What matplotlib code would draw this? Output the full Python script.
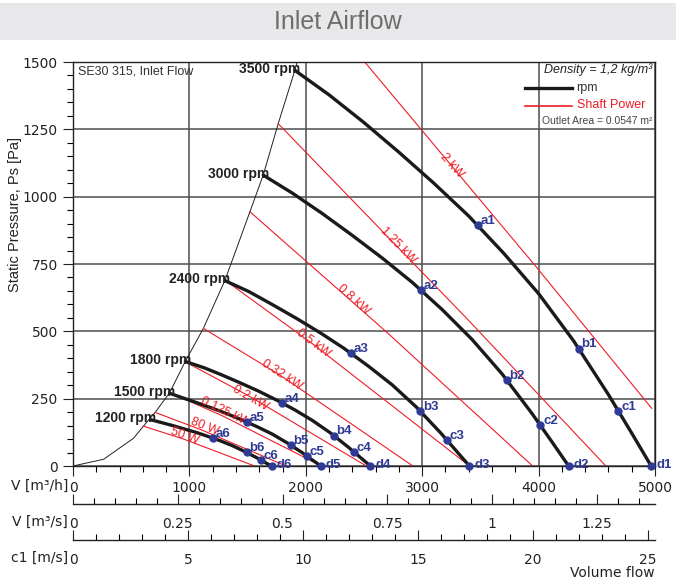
import matplotlib
matplotlib.use('Agg')
import matplotlib.pyplot as plt
from matplotlib.lines import Line2D
from matplotlib.patches import Rectangle
from matplotlib.ticker import MultipleLocator, FixedLocator

# fan curves, flow in m3/h and static pressure in Pa
rpm_labels = ['3500 rpm', '3000 rpm', '2400 rpm', '1800 rpm', '1500 rpm', '1200 rpm']
q_3500 = [1906, 2200, 2500, 2800, 3100, 3400, 3700, 4000, 4300, 4600, 4800, 4967]
p_3500 = [1469, 1378, 1275, 1165, 1050, 928, 790, 640, 465, 265, 122, 0]
q_3000 = [1634, 1885, 2143, 2400, 2657, 2914, 3171, 3428, 3686, 3943, 4114, 4258]
p_3000 = [1080, 1013, 937, 856, 772, 682, 581, 470, 342, 195, 90, 0]
q_2400 = [1306, 1509, 1714, 1920, 2126, 2331, 2537, 2743, 2949, 3154, 3291, 3406]
p_2400 = [688, 648, 599, 548, 494, 436, 371, 301, 219, 125, 57, 0]
q_1800 = [965, 1131, 1285, 1440, 1594, 1748, 1903, 2057, 2211, 2365, 2468, 2555]
p_1800 = [388, 364, 337, 308, 278, 245, 209, 169, 123, 70, 32, 0]
q_1500 = [830, 943, 1071, 1200, 1329, 1457, 1586, 1714, 1843, 1971, 2057, 2130]
p_1500 = [270, 253, 234, 214, 193, 170, 145, 118, 85, 49, 22, 0]
q_1200 = [665, 754, 857, 960, 1063, 1166, 1269, 1372, 1474, 1577, 1646, 1706]
p_1200 = [172, 162, 150, 137, 124, 109, 93, 75, 54, 31, 14, 0]

# operating points
op_labels = ['a1', 'b1', 'c1', 'd1', 'a2', 'b2', 'c2', 'd2', 'a3', 'b3', 'c3', 'd3',
             'a4', 'b4', 'c4', 'd4', 'a5', 'b5', 'c5', 'd5', 'a6', 'b6', 'c6', 'd6']
op_q = [3477, 4343, 4686, 4967, 2986, 3726, 4015, 4258, 2386, 2983, 3212, 3406,
        1794, 2240, 2412, 2555, 1497, 1869, 2011, 2130, 1200, 1492, 1614, 1706]
op_p = [893, 436, 204, 0, 654, 319, 151, 0, 419, 204, 96, 0,
        234, 113, 53, 0, 162, 78, 37, 0, 104, 51, 22, 0]

# shaft power lines
power_labels = ['50 W', '80 W', '0.125 kW', '0.2 kW', '0.32 kW', '0.5 kW', '0.8 kW', '1.25 kW', '2 kW']
pw_q = [[605, 950, 1560], [706, 1110, 1830], [830, 1290, 2135], [963, 1520, 2520],
        [1120, 1780, 2920], [1306, 2063, 3406], [1520, 2700, 3949], [1763, 3378, 4578],
        [2506, 3978, 4972]]
pw_p = [[148, 100, 0], [199, 133, 0], [273, 185, 0], [387, 258, 0],
        [511, 337, 0], [690, 452, 0], [944, 495, 0], [1271, 550, 0],
        [1500, 740, 214]]
pw_label_q = [963, 1134, 1306, 1520, 1791, 2063, 2406, 2792, 3256]
pw_label_p = [109, 146, 201, 251, 338, 455, 616, 820, 1117]
pw_label_rot = [-20, -22, -26, -30, -33, -37, -42, -46, -48]

# surge limit line
limit_q = [0, 263, 520, 605, 706, 830, 963, 1120, 1306, 1520, 1634, 1763, 1906, 1925]
limit_p = [0, 25, 103, 148, 199, 272, 387, 511, 690, 944, 1080, 1271, 1469, 1500]

W, H = 676, 583
def fx(px):
    return px / W
def fy(py):
    return 1 - py / H

red = '#ee1c25'
blue = '#2e3a94'
dark = '#222222'

fig = plt.figure(figsize=(W / 100, H / 100), dpi=100)
fig.add_artist(Rectangle((0, fy(40)), 1, fy(3) - fy(40), transform=fig.transFigure,
                         facecolor='#e8e8ea', edgecolor='none'))
fig.text(0.5, fy(22), 'Inlet Airflow', ha='center', va='center', fontsize=18,
         family='Liberation Sans', color='#6e6e6e')

ax = fig.add_axes([fx(73), fy(466), fx(655) - fx(73), fy(62) - fy(466)])
ax.set_xlim(0, 5000)
ax.set_ylim(0, 1500)
ax.xaxis.set_major_locator(MultipleLocator(1000))
ax.xaxis.set_minor_locator(MultipleLocator(200))
ax.yaxis.set_major_locator(MultipleLocator(250))
ax.yaxis.set_minor_locator(MultipleLocator(50))
ax.tick_params(which='major', direction='out', length=7, width=0.8, labelsize=10,
               colors=dark, pad=4)
ax.tick_params(which='minor', direction='out', length=4.5, width=0.8)
ax.set_axisbelow(True)
ax.grid(which='major', color='#4d4d4d', lw=1.1)
for s in ax.spines.values():
    s.set_color(dark)
    s.set_linewidth(1.0)

ax.plot(limit_q, limit_p, color='#222', lw=0.7)

for q, p in zip(pw_q, pw_p):
    ax.plot(q, p, color=red, lw=0.8)
for lbl, q, p, r in zip(power_labels, pw_label_q, pw_label_p, pw_label_rot):
    ax.text(q, p, lbl, rotation=r, rotation_mode='anchor', ha='center', va='center',
            fontsize=9, color=red, family='Liberation Sans')

curves = [(q_3500, p_3500), (q_3000, p_3000), (q_2400, p_2400),
          (q_1800, p_1800), (q_1500, p_1500), (q_1200, p_1200)]
for lbl, (q, p) in zip(rpm_labels, curves):
    ax.plot(q, p, color='#1a1a1a', lw=2.4, solid_capstyle='round')
    ax.annotate(lbl, (q[0], p[0]), xytext=(4, 1), textcoords='offset points',
                ha='right', va='center', fontsize=10, fontweight='bold',
                family='Liberation Sans', color=dark)

ax.plot(op_q, op_p, 'o', color=blue, ms=5, clip_on=False, zorder=5)
for lbl, q, p in zip(op_labels, op_q, op_p):
    # points on the axis get their label a little lower and further right
    off = (3.5, 1) if lbl.startswith('d') else (2, 3)
    ax.annotate(lbl, (q, p), xytext=off, textcoords='offset points',
                ha='left', va='center', fontsize=9.5, fontweight='bold',
                family='Liberation Sans', color=blue, annotation_clip=False)

# extra flow scales under the chart
ax2 = fig.add_axes([fx(73), fy(504), fx(655) - fx(73), 1e-4])
ax2.set_xlim(0, 5000 / 3600)
ax2.xaxis.set_major_locator(FixedLocator([0, 0.25, 0.5, 0.75, 1.0, 1.25]))
ax2.set_xticklabels(['0', '0.25', '0.5', '0.75', '1', '1.25'])
ax2.xaxis.set_minor_locator(MultipleLocator(0.05))

ax3 = fig.add_axes([fx(73), fy(540), fx(655) - fx(73), 1e-4])
ax3.set_xlim(0, 25.3)
ax3.xaxis.set_major_locator(MultipleLocator(5))
ax3.xaxis.set_minor_locator(MultipleLocator(1))

for a in (ax2, ax3):
    a.set_yticks([])
    for side in ('left', 'right', 'top'):
        a.spines[side].set_visible(False)
    a.spines['bottom'].set_color(dark)
    a.spines['bottom'].set_linewidth(1.0)
    a.tick_params(which='major', direction='in', length=7, width=0.8, labelsize=10,
                  colors=dark, pad=9)
    a.tick_params(which='minor', direction='in', length=4.5, width=0.8)

fig.text(fx(68), fy(486), 'V [m³/h]', ha='right', va='center', fontsize=10, color=dark)
fig.text(fx(68), fy(522), 'V [m³/s]', ha='right', va='center', fontsize=10, color=dark)
fig.text(fx(68), fy(558), 'c1 [m/s]', ha='right', va='center', fontsize=10, color=dark)
fig.text(fx(655), fy(573), 'Volume flow', ha='right', va='center', fontsize=10, color=dark)
fig.text(fx(15), fy(215), 'Static Pressure, Ps [Pa]', rotation=90, ha='center', va='center',
         fontsize=10.5, family='Liberation Sans', color=dark)

fig.text(fx(78), fy(71), 'SE30 315, Inlet Flow', ha='left', va='center', fontsize=9,
         family='Liberation Sans', color='#333')
fig.text(fx(652), fy(70), 'Density = 1,2 kg/m³', ha='right', va='center', fontsize=9,
         style='italic', family='Liberation Sans', color=dark)
fig.add_artist(Line2D([fx(525), fx(572)], [fy(88), fy(88)], color='#1a1a1a', lw=2.4))
fig.text(fx(576), fy(88), 'rpm', ha='left', va='center', fontsize=9,
         family='Liberation Sans', color='#333')
fig.add_artist(Line2D([fx(525), fx(572)], [fy(105.5), fy(105.5)], color=red, lw=1.2))
fig.text(fx(577), fy(105.5), 'Shaft Power', ha='left', va='center', fontsize=9,
         family='Liberation Sans', color=red)
fig.text(fx(652), fy(120.5), 'Outlet Area = 0.0547 m²', ha='right', va='center', fontsize=7.5,
         family='Liberation Sans', color='#444')

fig.savefig('out.png', dpi=100)
